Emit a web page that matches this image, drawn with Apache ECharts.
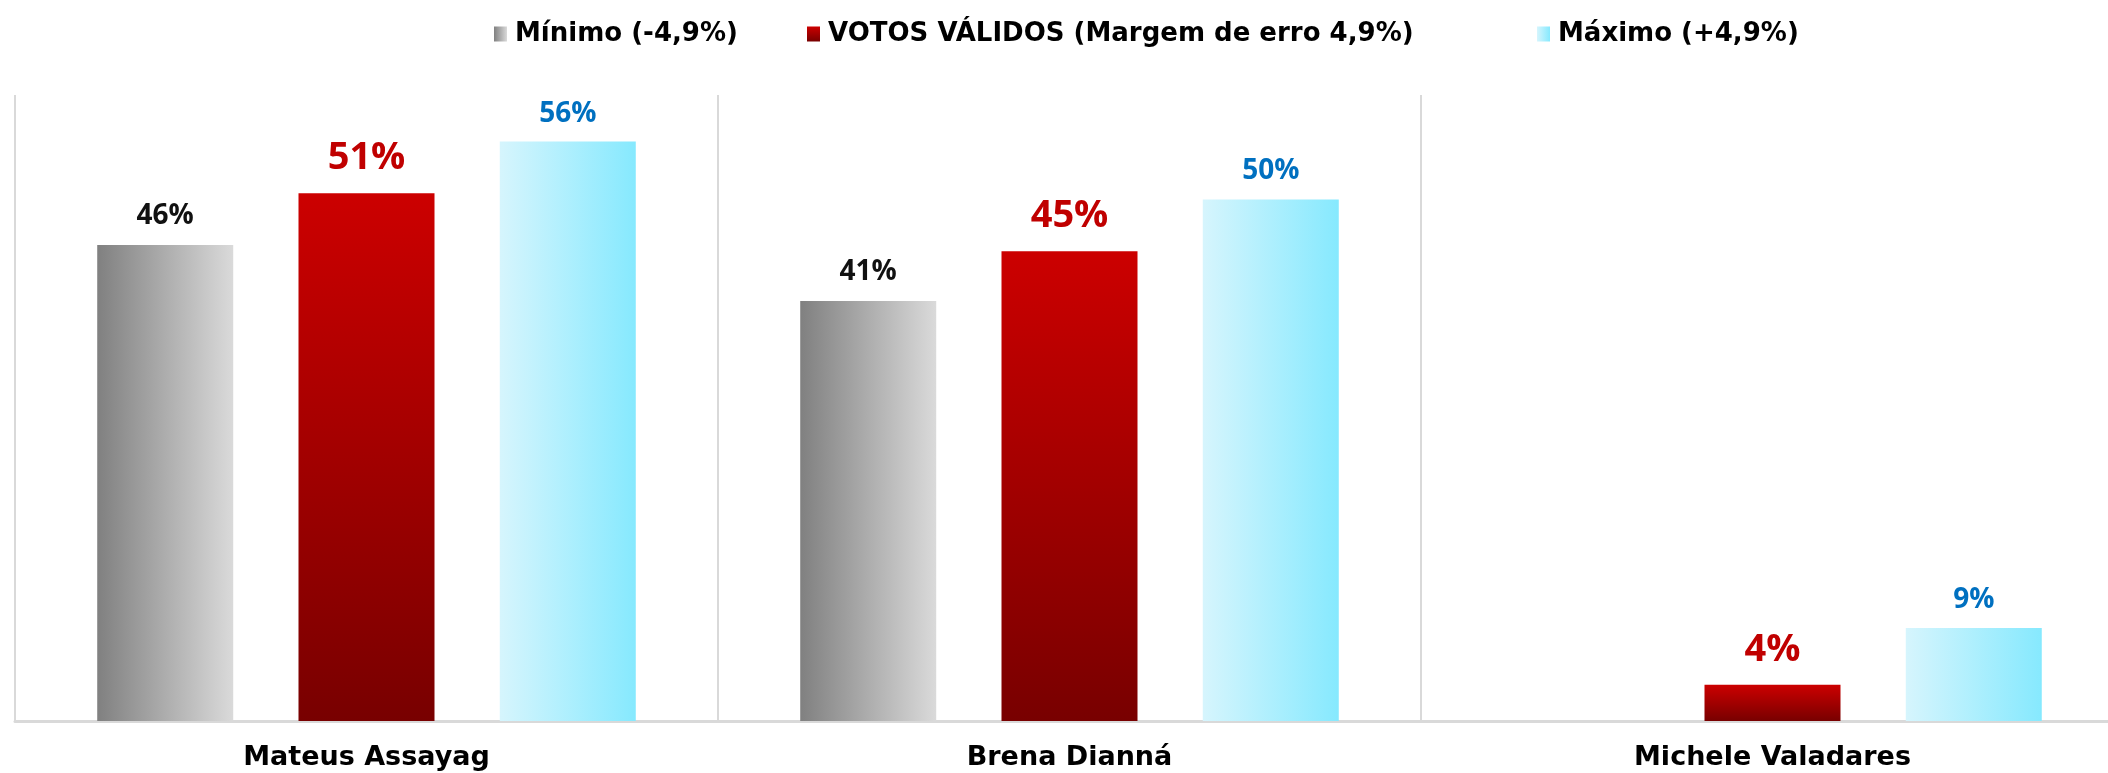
<!DOCTYPE html>
<html>
<head>
<meta charset="utf-8">
<script src="https://cdn.jsdelivr.net/npm/echarts@6.0.0/dist/echarts.min.js"></script>
<style>
  html, body { margin: 0; padding: 0; background: #fff; }
  #mychart { width: 2108px; height: 773px; }
</style>
</head>
<body>
<div id="mychart"></div>
<script>
// data
const candidates = ['Mateus Assayag', 'Brena Dianná', 'Michele Valadares']
const seriesNames = ['Mínimo (-4,9%)', 'VOTOS VÁLIDOS (Margem de erro 4,9%)', 'Máximo (+4,9%)']
const minimo = [46, 40.6, '-']
const votosValidos = [51, 45.4, 3.5]
const maximo = [56, 50.4, 9]

const textFont = "'DejaVu Sans', 'Liberation Sans', sans-serif"
const labelFont = "'Open Sans', 'Noto Sans', sans-serif"

const grad = echarts.graphic.LinearGradient
const colors = [
  new grad(0, 0, 1, 0, [{ offset: 0, color: '#808080' }, { offset: 1, color: '#dadada' }]),
  new grad(0, 0, 0, 1, [{ offset: 0, color: '#cc0000' }, { offset: 1, color: '#780000' }]),
  new grad(0, 0, 1, 0, [{ offset: 0, color: '#d6f5fd' }, { offset: 1, color: '#86e9fe' }])
]

function pct (p) {
  return Math.round(p.value) + '%'
}

// one legend per entry so each sits where the reference has it
const legendLeft = [489, 802, 1532]
const legends = seriesNames.map((name, index) => {
  return {
    data: [name],
    left: legendLeft[index],
    top: 16,
    icon: 'rect',
    itemWidth: 13,
    itemHeight: 15,
    itemGap: 8,
    selectedMode: false,
    textStyle: {
      color: '#000',
      fontSize: 26,
      fontWeight: 'bold',
      fontFamily: textFont,
      padding: [0, 0, 0, 3]
    }
  }
})

const labelStyles = [
  { color: '#111', fontSize: 28, distance: 15 },
  { color: '#c00000', fontSize: 38, distance: 16 },
  { color: '#0070c0', fontSize: 28, distance: 14 }
]

const seriesData = [minimo, votosValidos, maximo]

const chart = echarts.init(document.getElementById('mychart'))
chart.setOption({
  animation: false,
  backgroundColor: '#fff',
  legend: legends,
  grid: {
    left: 15,
    right: -16,
    top: 95,
    bottom: 52,
    outerBoundsMode: 'none'
  },
  xAxis: {
    type: 'category',
    data: candidates,
    axisTick: { show: false },
    axisLine: {
      lineStyle: { color: '#d9d9d9', width: 3 }
    },
    splitLine: {
      show: true,
      lineStyle: { color: '#d9d9d9', width: 2 }
    },
    axisLabel: {
      margin: 23,
      color: '#000',
      fontSize: 27,
      fontWeight: 'bold',
      fontFamily: textFont
    }
  },
  yAxis: {
    type: 'value',
    min: 0,
    max: 60.5,
    show: false
  },
  series: seriesNames.map((name, index) => {
    return {
      name: name,
      type: 'bar',
      barWidth: 136,
      barGap: '48%',
      itemStyle: { color: colors[index] },
      label: {
        show: true,
        position: 'top',
        distance: labelStyles[index].distance,
        color: labelStyles[index].color,
        fontSize: labelStyles[index].fontSize,
        fontWeight: 'bold',
        fontFamily: labelFont,
        formatter: pct
      },
      data: seriesData[index]
    }
  })
})
</script>
</body>
</html>
